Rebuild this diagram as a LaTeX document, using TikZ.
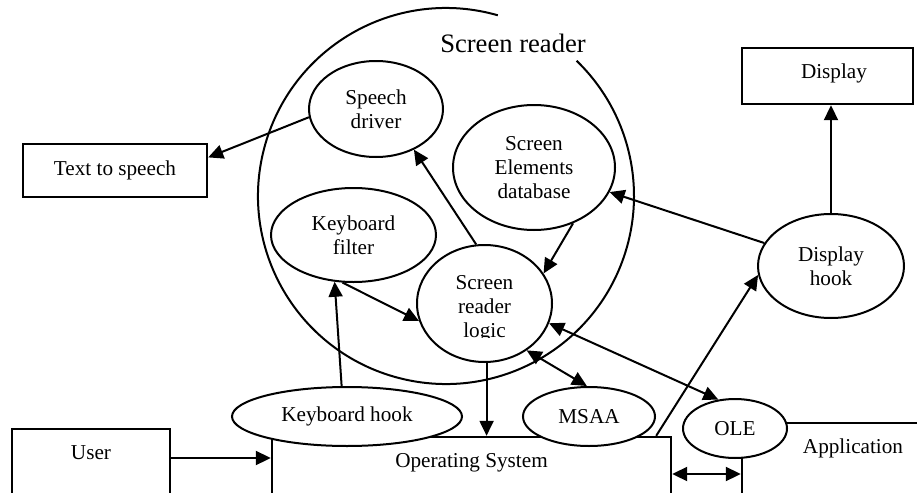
\documentclass[tikz,border=0pt]{standalone}
\usepackage{fontspec}
\setmainfont{Liberation Serif}
\usetikzlibrary{arrows.meta,shapes.geometric}
\begin{document}
\begin{tikzpicture}[x=0.5pt,y=-0.5pt, line width=1pt,
  every node/.style={font=\fontsize{10.6pt}{12pt}\selectfont, inner sep=0pt, align=center},
  ell/.style={draw, ellipse, fill=white},
  box/.style={draw, rectangle, line width=1.2pt, fill=white},
  arr/.style={-{Triangle[length=7.5pt,width=7pt]}},
  darr/.style={{Triangle[length=7.5pt,width=7pt]}-{Triangle[length=7.5pt,width=7pt]}}]
\clip (0,0) rectangle (917,493);
% big open circle
\coordinate (cc) at (446,196);
\draw (cc) ++(74:94pt) arc[start angle=74, end angle=406, radius=94pt];
\node[font=\fontsize{13.3pt}{15pt}\selectfont] (title) at (513,43) {Screen reader};
% boxes
\node[box, minimum width=92pt, minimum height=26.5pt] (tts) at (115,170.5) {Text to speech};
\node[box, minimum width=85.5pt, minimum height=28pt, label={[xshift=3.25pt,yshift=1.5pt]center:Display}] (disp) at (827.5,76) {};
\node[box, minimum width=79pt, minimum height=45.5pt, label={[yshift=10.75pt]center:User}] (user) at (91,474.5) {};
\node[box, minimum width=199.5pt, minimum height=41.5pt, label={[yshift=7.75pt]center:Operating System}] (os) at (471.5,478.5) {};
\node[box, minimum width=129pt, minimum height=48.5pt, label={[xshift=-9pt,yshift=11.75pt]center:Application}] (app) at (871,471.5) {};
% ellipses
\node[ell, minimum width=67pt, minimum height=48pt] (sd) at (376,109) {Speech\\driver};
\node[ell, minimum width=81pt, minimum height=62.5pt] (sed) at (534,167.5) {Screen\\Elements\\database};
\node[ell, minimum width=82.5pt, minimum height=47pt] (kf) at (353.5,235) {Keyboard\\filter};
\node[ell, minimum width=67.5pt, minimum height=58.5pt] (srl) at (484.5,303.5) {};
\begin{scope}
\clip (400,240) rectangle (570,337);
\node (srltxt) at (484.5,309) {Screen\\reader\\logic};
\end{scope}
\node[ell, minimum width=73pt, minimum height=52pt] (dh) at (831,266) {Display\\hook};
\node[ell, minimum width=115pt, minimum height=29.5pt] (kh) at (347,416.5) {Keyboard hook};
\node[ell, minimum width=66pt, minimum height=29.5pt] (msaa) at (589,416.5) {MSAA};
\node[ell, minimum width=52pt, minimum height=29.5pt] (ole) at (735,428.5) {OLE};
% connectors
\draw[arr] (sd.187) -- (tts.8);
\draw[arr] (srl.98) -- (sd.-47);
\draw[arr] (sed.-55) -- (srl.27);
\draw[arr] (kf.-103) -- (srl.195);
\draw[arr] (kh.100) -- (kf.-112);
\draw[arr] (srl.-88) -- (srl.-88 |- os.north);
\draw[darr] (srl.-48) -- (msaa.94);
\draw[darr] (srl.-17) -- (ole.120);
\draw[arr] ([xshift=-8pt]os.north east) -- (dh.187);
\draw[arr] (dh.161) -- (sed.-18);
\draw[arr] (dh.north) -- (dh.north |- disp.south);
\coordinate (u1) at ([yshift=8.25pt]user.east);
\draw[arr] (u1) -- (u1 -| os.west);
\coordinate (o1) at ([yshift=2.25pt]os.east);
\draw[darr] (o1) -- (o1 -| app.west);
\end{tikzpicture}
\end{document}
